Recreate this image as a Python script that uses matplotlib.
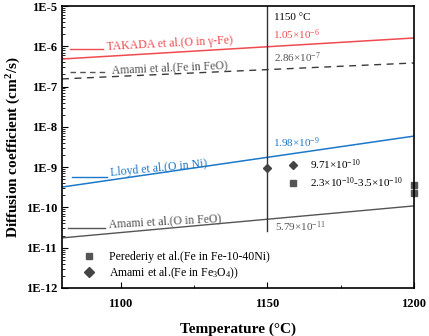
import matplotlib
matplotlib.use('Agg')
import matplotlib.pyplot as plt
from matplotlib.ticker import MultipleLocator, LogLocator, FixedLocator
from matplotlib.lines import Line2D

plt.rcParams['font.family'] = ['Liberation Serif', 'DejaVu Serif']
plt.rcParams['mathtext.fontset'] = 'custom'
plt.rcParams['mathtext.rm'] = 'Liberation Serif'
plt.rcParams['mathtext.it'] = 'Liberation Serif:italic'
plt.rcParams['mathtext.bf'] = 'Liberation Serif:bold'

# line end points (temperature in C, D in cm2/s)
temp = [1080, 1200]
takada = [4.84e-7, 1.61e-6]
amami_fe_feo = [1.55e-7, 3.86e-7]
lloyd = [3.2e-10, 5.9e-9]
amami_o_feo = [1.75e-11, 1.09e-10]

# points
perederiy_t = [1200, 1200]
perederiy_d = [2.3e-10, 3.5e-10]
amami_fe3o4_t = [1150]
amami_fe3o4_d = [9.71e-10]

ytick_vals = [1e-12, 1e-11, 1e-10, 1e-9, 1e-8, 1e-7, 1e-6, 1e-5]
ytick_labels = ['1E-12', '1E-11', '1E-10', '1E-9', '1E-8', '1E-7', '1E-6', '1E-5']

red = '#ef4b50'
blue = '#1c78c8'
dark = '#3a3a3a'
gray = '#555555'

fig = plt.figure(figsize=(4.29, 3.36), dpi=100)
ax = fig.add_axes([0.1445, 0.143, 0.8205, 0.839])

ax.plot(temp, takada, color=red, lw=1.1)
ax.plot(temp, amami_fe_feo, color=dark, lw=1.0, ls=(0, (5, 4)))
ax.plot(temp, lloyd, color=blue, lw=1.1)
ax.plot(temp, amami_o_feo, color=gray, lw=1.0)

# vertical line at 1150 C
ax.plot([1150, 1150], [1e-5, 2.6e-11], color='#333333', lw=1.0)

ax.plot(perederiy_t, perederiy_d, ls='none', marker='s', ms=5, color=gray, clip_on=False)
ax.plot(amami_fe3o4_t, amami_fe3o4_d, ls='none', marker='D', ms=4.5, color='#444444')

# inline labels with leader segments
labels = [
    ('TAKADA et al.(O in γ-Fe)', red, '-', (1082.7, 1094.0), 8.57e-7, (1095.1, 9.6e-7), 3.0),
    ('Amami et al.(Fe in FeO)', gray, (0, (4, 3)), (1082.7, 1095.8), 2.30e-7, (1096.8, 2.58e-7), 2.5),
    ('Lloyd et al.(O in Ni)', blue, '-', (1083.4, 1095.4), 5.7e-10, (1096.4, 7.2e-10), 5.5),
    ('Amami et al.(O in FeO)', gray, '-', (1082.1, 1094.7), 3.1e-11, (1095.8, 3.7e-11), 3.0),
]
for txt, c, ls, xs, yl, pos, rot in labels:
    ax.plot(xs, [yl, yl], color=c, ls=ls, lw=1.0)
    ax.text(pos[0], pos[1], txt, color=c, fontsize=8.5, rotation=rot,
            rotation_mode='anchor', ha='left', va='center')

ax.text(1152.2, 5.3e-6, '1150 °C', fontsize=8, va='center')
ax.text(1151.9, 1.9e-6, r'1.05$\times$10$^{-6}$', color=red, fontsize=8, va='center')
ax.text(1152.2, 5.1e-7, r'2.86$\times$10$^{-7}$', color=gray, fontsize=8, va='center')
ax.text(1151.9, 4.0e-9, r'1.98$\times$10$^{-9}$', color=blue, fontsize=8, va='center')
ax.text(1152.6, 3.3e-11, r'5.79$\times$10$^{-11}$', color=gray, fontsize=8, va='center')

# value key
h1 = [Line2D([], [], ls='none', marker='D', ms=4.5, color='#444444'),
      Line2D([], [], ls='none', marker='s', ms=4.5, color=gray)]
leg1 = ax.legend(h1, [r'9.71$\times$10$^{-10}$', r'2.3$\times$10$^{-10}$-3.5$\times$10$^{-10}$'],
                 loc='upper left', bbox_to_anchor=(0.641, 0.462), frameon=False,
                 fontsize=8, handlelength=1.0, handletextpad=1.0, labelspacing=0.3,
                 borderpad=0, borderaxespad=0)
ax.add_artist(leg1)

h2 = [Line2D([], [], ls='none', marker='s', ms=5, color=gray),
      Line2D([], [], ls='none', marker='D', ms=5, color='#444444')]
ax.legend(h2, ['Perederiy et al.(Fe in Fe-10-40Ni)', r'Amami et al.(Fe in Fe$_3$O$_4$))'],
          loc='upper left', bbox_to_anchor=(0.06, 0.13), frameon=False,
          fontsize=8.5, handlelength=1.0, handletextpad=1.2, labelspacing=0.2,
          borderpad=0, borderaxespad=0)

ax.set_yscale('log')
ax.set_xlim(1080, 1200)
ax.set_ylim(1e-12, 1e-5)
ax.xaxis.set_major_locator(FixedLocator([1100, 1150, 1200]))
ax.xaxis.set_minor_locator(MultipleLocator(25))
ax.yaxis.set_major_locator(FixedLocator(ytick_vals))
ax.set_yticklabels(ytick_labels)
ax.yaxis.set_minor_locator(LogLocator(base=10, subs=range(2, 10), numticks=20))
ax.yaxis.set_minor_formatter(plt.NullFormatter())
ax.tick_params(which='both', direction='in', labelsize=9)
ax.tick_params(which='major', length=4)
ax.tick_params(which='minor', length=2)
ax.tick_params(axis='x', which='major', pad=7)
for lab in ax.get_xticklabels() + ax.get_yticklabels():
    lab.set_fontweight('bold')
for s in ax.spines.values():
    s.set_linewidth(1.2)

ax.set_xlabel('Temperature (°C)', fontsize=11, fontweight='bold', labelpad=9)
ax.set_ylabel('Diffusion coefficient (cm$^\\mathbf{2}$/s)', fontsize=11, fontweight='bold', labelpad=2)

fig.savefig('out.png', dpi=100)
